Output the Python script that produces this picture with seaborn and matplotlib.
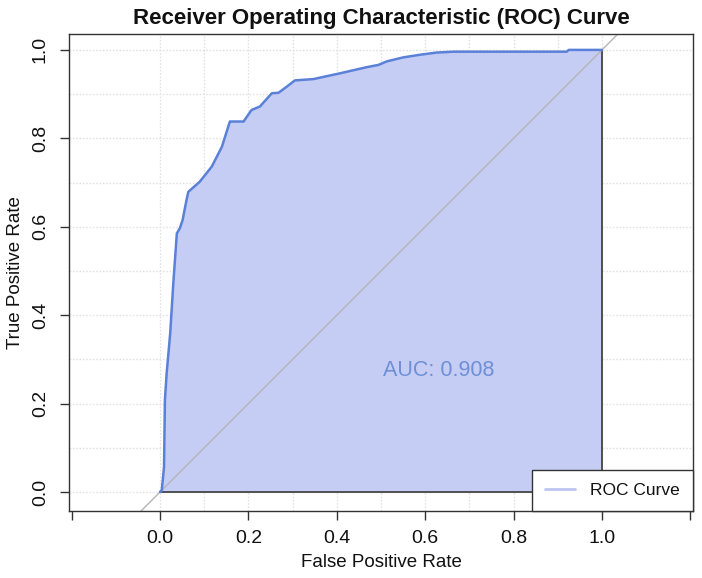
import numpy as np
import pandas as pd
import seaborn as sns
import matplotlib.pyplot as plt
from matplotlib.lines import Line2D

# roc points
fpr = [0, 0.004, 0.009, 0.011, 0.015, 0.023, 0.030, 0.038, 0.045, 0.051, 0.060, 0.064,
       0.090, 0.117, 0.140, 0.158, 0.189, 0.207, 0.226, 0.253, 0.268, 0.287, 0.305,
       0.347, 0.407, 0.468, 0.494, 0.513, 0.550, 0.588, 0.626, 0.664, 0.920, 0.925, 1.0]
tpr = [0, 0.005, 0.057, 0.208, 0.269, 0.359, 0.472, 0.585, 0.597, 0.615, 0.661, 0.679,
       0.702, 0.736, 0.781, 0.838, 0.838, 0.864, 0.872, 0.902, 0.903, 0.917, 0.931,
       0.934, 0.947, 0.961, 0.966, 0.974, 0.983, 0.989, 0.994, 0.996, 0.996, 1.0, 1.0]
auc_value = 0.908

xticks = [-0.2, 0.0, 0.2, 0.4, 0.6, 0.8, 1.0, 1.2]
xtick_labels = ['', '0.0', '0.2', '0.4', '0.6', '0.8', '1.0', '']
yticks = [0.0, 0.2, 0.4, 0.6, 0.8, 1.0]

df = pd.DataFrame({'fpr': fpr, 'tpr': tpr})

sns.set_theme(style='white')
plt.rcParams['font.family'] = ['Liberation Sans', 'DejaVu Sans']

fig = plt.figure(figsize=(7.02, 5.78), dpi=100)
ax = fig.add_axes([0.0983, 0.1159, 0.8889, 0.8253])

# dotted grid
for g in np.arange(0, 1.01, 0.1):
    ax.axvline(g, color='#e2e2e2', lw=1, ls=(0, (1.2, 1.2)), zorder=0)
    ax.axhline(g, color='#e2e2e2', lw=1, ls=(0, (1.2, 1.2)), zorder=0)

# area under curve
ax.fill_between(df['fpr'], df['tpr'], 0, color='#c5cdf5', lw=0, zorder=1)
ax.plot([0, 1, 1], [0, 0, 1], color='#454545', lw=1.3, zorder=2)

# chance line
ax.plot([-0.3, 1.3], [-0.3, 1.3], color='#b5b5b5', lw=1, zorder=2)

sns.lineplot(data=df, x='fpr', y='tpr', sort=False, estimator=None,
             color='#5a80d8', lw=1.8, ax=ax, zorder=3)

ax.text(0.63, 0.275, f'AUC: {auc_value:.3f}', color='#6f8fd6', fontsize=15.5,
        ha='center', va='center', zorder=4)

ax.set_xlim(-0.206, 1.206)
ax.set_ylim(-0.043, 1.036)
ax.set_xticks(xticks)
ax.set_xticklabels(xtick_labels)
ax.set_yticks(yticks)
ax.set_yticklabels([f'{v:.1f}' for v in yticks], rotation=90, va='center')
ax.tick_params(axis='both', direction='out', length=6.5, width=1, color='#333333',
               labelsize=14, labelcolor='#111111', bottom=True, left=True)
ax.tick_params(axis='x', pad=7)
ax.tick_params(axis='y', pad=8)
for s in ax.spines.values():
    s.set_color('#333333')
    s.set_linewidth(1)

ax.set_xlabel('False Positive Rate', fontsize=13.5, color='#111111', labelpad=5)
ax.set_ylabel('True Positive Rate', fontsize=13.5, color='#111111', labelpad=6)
ax.set_title('Receiver Operating Characteristic (ROC) Curve', fontsize=16,
             fontweight='bold', color='#111111', pad=7)

handle = Line2D([], [], color='#bcc5f2', lw=2)
leg = ax.legend([handle], ['ROC Curve'], loc='lower right', borderaxespad=0,
                fancybox=False, framealpha=1, edgecolor='#333333', fontsize=12.5,
                borderpad=0.75, handlelength=1.7, handletextpad=0.9)
leg.get_frame().set_linewidth(1)
for t in leg.get_texts():
    t.set_color('#111111')
leg.set_zorder(5)

fig.savefig('out.png', dpi=100)
